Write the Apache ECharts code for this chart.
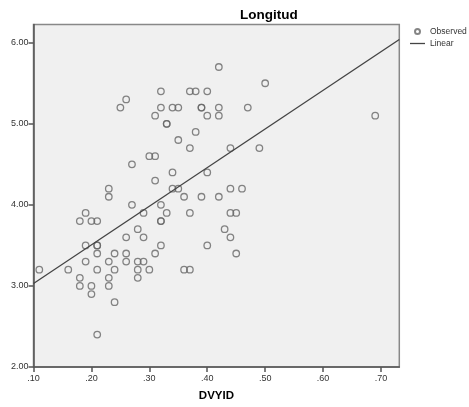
<!DOCTYPE html>
<html>
<head>
<meta charset="utf-8">
<script src="https://cdn.jsdelivr.net/npm/echarts@6/dist/echarts.min.js"></script>
<style>
html,body{margin:0;padding:0;background:#fff;}
#chart{width:469px;height:407px;}
</style>
</head>
<body>
<div id="chart"></div>
<script>
// Observed data (DVYID, Longitud)
const dvyid = [
  0.11,0.16,0.18,0.18,0.18,0.19,0.19,0.19,0.20,0.20,0.20,
  0.21,0.21,0.21,0.21,0.21,0.21,0.23,0.23,0.23,0.23,0.23,
  0.24,0.24,0.24,0.25,0.26,0.26,0.26,0.26,0.27,0.27,
  0.28,0.28,0.28,0.28,0.29,0.29,0.29,0.30,0.30,
  0.31,0.31,0.31,0.31,0.32,0.32,0.32,0.32,0.32,0.32,
  0.33,0.33,0.33,0.34,0.34,0.34,0.35,0.35,0.35,0.36,0.36,
  0.37,0.37,0.37,0.37,0.38,0.38,0.39,0.39,0.39,
  0.40,0.40,0.40,0.40,0.42,0.42,0.42,0.42,0.43,
  0.44,0.44,0.44,0.44,0.45,0.45,0.46,0.47,0.49,0.50,0.69
];
const longitud = [
  3.2,3.2,3.8,3.1,3.0,3.9,3.5,3.3,3.8,3.0,2.9,
  3.8,3.5,3.5,3.4,3.2,2.4,4.2,4.1,3.3,3.1,3.0,
  3.4,3.2,2.8,5.2,5.3,3.6,3.4,3.3,4.5,4.0,
  3.7,3.3,3.2,3.1,3.9,3.6,3.3,4.6,3.2,
  5.1,4.6,4.3,3.4,5.4,5.2,4.0,3.8,3.8,3.5,
  5.0,5.0,3.9,5.2,4.4,4.2,5.2,4.8,4.2,4.1,3.2,
  5.4,4.7,3.9,3.2,5.4,4.9,5.2,5.2,4.1,
  5.4,5.1,4.4,3.5,5.7,5.2,5.1,4.1,3.7,
  4.7,4.2,3.9,3.6,3.9,3.4,4.2,5.2,4.7,5.5,5.1
];
// Linear fit line endpoints
const fitX = [0.10, 0.7316];
const fitY = [3.03, 6.04];
// Axis ticks
const xTicks = [0.1,0.2,0.3,0.4,0.5,0.6,0.7];
const yTicks = [2,3,4,5,6];

const chart = echarts.init(document.getElementById('chart'), null, {renderer:'canvas'});
const FONT = 'Liberation Sans, Arial, sans-serif';
chart.setOption({
  animation: false,
  backgroundColor: '#fff',
  title: {
    text: 'Longitud',
    left: 235, top: 3,
    textStyle: {fontFamily: FONT, fontSize: 13.5, fontWeight: 'bold', color: '#000'}
  },
  legend: {
    orient: 'vertical',
    left: 405, top: 21,
    itemWidth: 15, itemHeight: 5,
    itemGap: 1,
    symbolKeepAspect: true,
    textStyle: {fontFamily: FONT, fontSize: 8.5, color: '#333', lineHeight: 11},
    data: [
      {name: 'Observed'},
      {name: 'Linear', icon: 'path://M0,0H30V2.6H0Z', itemStyle: {color: '#444', borderWidth: 0}}
    ]
  },
  grid: {
    left: 33.5, right: 69.7, top: 24.5, bottom: 40,
    show: true, backgroundColor: '#f0f0f0', borderColor: '#888', borderWidth: 1.5
  },
  xAxis: {
    type: 'value', min: 0.1, max: 0.7316,
    name: 'DVYID', nameLocation: 'middle', nameGap: 23,
    nameTextStyle: {fontFamily: FONT, fontSize: 11.5, fontWeight: 'bold', color: '#000'},
    axisLine: {lineStyle: {color: '#555', width: 1.5}},
    axisTick: {show: true, length: 5, lineStyle: {color: '#555', width: 1.5}, customValues: xTicks},
    axisLabel: {
      customValues: xTicks, margin: 7, fontFamily: FONT, fontSize: 9, color: '#333',
      formatter: v => v.toFixed(2).replace(/^0/, '')
    },
    splitLine: {show: false}
  },
  yAxis: {
    type: 'value', min: 2, max: 6.2245,
    axisLine: {show: true, lineStyle: {color: '#555', width: 1.5}},
    axisTick: {show: true, length: 5, lineStyle: {color: '#555', width: 1.5}, customValues: yTicks},
    axisLabel: {
      customValues: yTicks, margin: 5, fontFamily: FONT, fontSize: 9, color: '#333',
      formatter: v => v.toFixed(2)
    },
    splitLine: {show: false}
  },
  series: [
    {
      name: 'Observed', type: 'scatter',
      symbol: 'circle', symbolSize: 6.5,
      itemStyle: {color: 'rgba(0,0,0,0)', borderColor: '#666', borderWidth: 1.3},
      data: dvyid.map((x, i) => [x, longitud[i]]),
      z: 3
    },
    {
      name: 'Linear', type: 'line',
      symbol: 'none', showSymbol: false,
      lineStyle: {color: '#444', width: 1.3},
      itemStyle: {color: '#444'},
      data: fitX.map((x, i) => [x, fitY[i]]),
      z: 4
    }
  ]
});
</script>
</body>
</html>
